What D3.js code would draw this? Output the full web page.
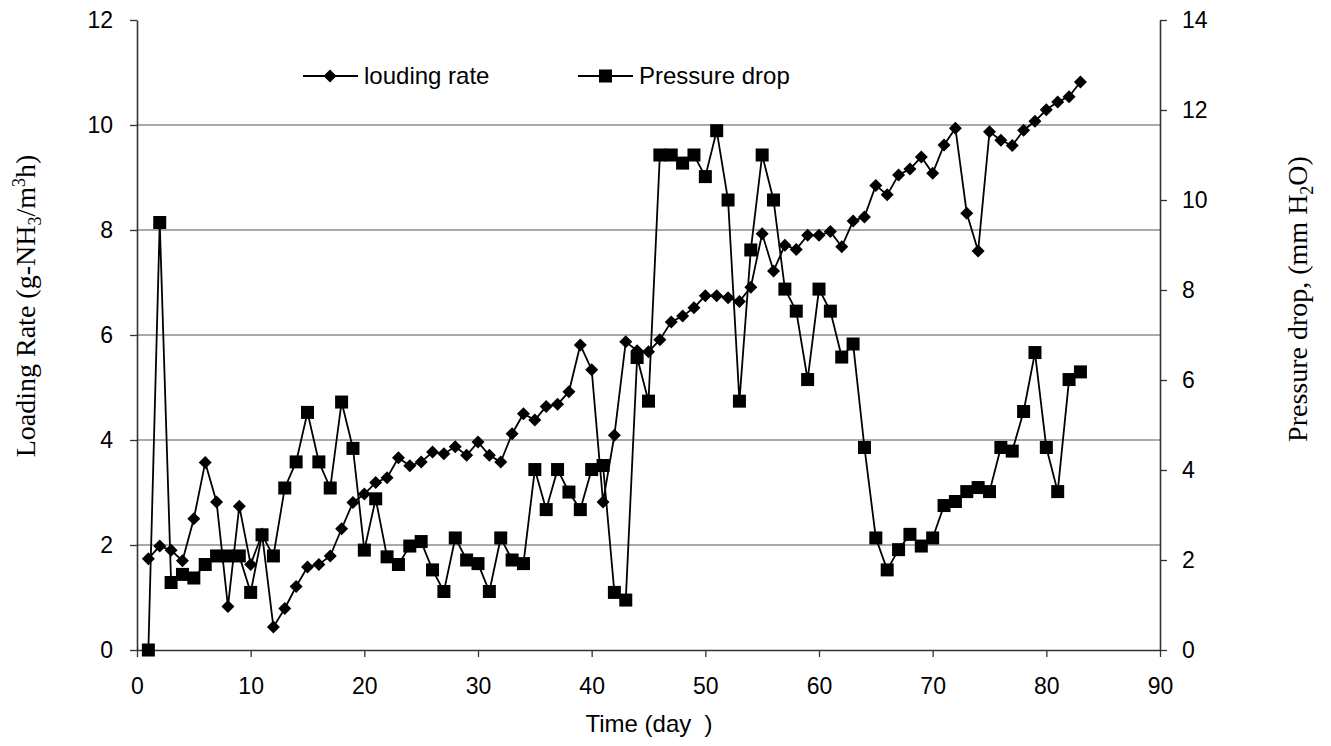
<!DOCTYPE html>
<html><head><meta charset="utf-8">
<script src="https://cdn.jsdelivr.net/npm/d3@7"></script>
<style>body{margin:0;background:#fff}</style></head>
<body><svg id="c" width="1331" height="746"></svg>
<script>
const days = d3.range(1, 84);
const loadingRate = [1.74,1.98,1.90,1.70,2.50,3.57,2.82,0.83,2.74,1.63,2.21,0.44,0.79,1.21,1.58,1.63,1.79,2.31,2.81,2.97,
3.19,3.28,3.66,3.51,3.58,3.77,3.74,3.87,3.71,3.96,3.71,3.58,4.12,4.50,4.38,4.64,4.68,4.92,5.81,5.34,
2.82,4.09,5.87,5.70,5.68,5.91,6.25,6.36,6.52,6.75,6.75,6.71,6.64,6.91,7.93,7.22,7.71,7.63,7.90,7.90,
7.97,7.68,8.17,8.25,8.85,8.67,9.05,9.16,9.39,9.08,9.62,9.94,8.32,7.60,9.87,9.71,9.61,9.90,10.07,10.29,
10.44,10.54,10.82];
const pressureDrop = [0,9.5,1.5,1.68,1.6,1.9,2.09,2.09,2.09,1.28,2.56,2.09,3.6,4.18,5.28,4.18,3.6,5.51,4.48,2.22,
3.36,2.07,1.9,2.31,2.41,1.78,1.30,2.49,2.0,1.92,1.30,2.49,2.0,1.92,4.01,3.12,4.01,3.51,3.12,4.01,
4.1,1.28,1.11,6.5,5.53,11.0,11.0,10.82,11.0,10.52,11.54,10.0,5.53,8.89,11.0,10.0,8.02,7.53,6.01,8.02,
7.53,6.51,6.80,4.5,2.49,1.78,2.23,2.57,2.31,2.49,3.21,3.30,3.52,3.61,3.52,4.50,4.42,5.30,6.61,4.50,
3.52,6.01,6.18];
const xTicks = d3.range(0, 91, 10);
const leftTicks = d3.range(0, 13, 2);
const rightTicks = d3.range(0, 15, 2);

const svg = d3.select("#c");
const L = 137, R = 1160, T = 20, B = 650;
const x = d3.scaleLinear().domain([0, 90]).range([L, R]);
const yL = d3.scaleLinear().domain([0, 12]).range([B, T]);
const yR = d3.scaleLinear().domain([0, 14]).range([B, T]);

svg.append("g").selectAll("line").data(leftTicks.filter(d => d > 0 && d < 12)).join("line")
  .attr("x1", L).attr("x2", R).attr("y1", d => yL(d)).attr("y2", d => yL(d))
  .attr("stroke", "#555").attr("stroke-width", 1.2);

const axFont = "'Liberation Sans', Arial, sans-serif";
function styleAxis(g) {
  g.selectAll("path").attr("stroke", "#333").attr("stroke-width", 1.6);
  g.selectAll("line").attr("stroke", "#333").attr("stroke-width", 1.3);
  g.selectAll("text").attr("font-family", axFont).attr("font-size", 23).attr("fill", "#000");
}
svg.append("g").attr("transform", `translate(0,${B})`)
  .call(d3.axisBottom(x).tickValues(xTicks).tickSize(7).tickPadding(21).tickSizeOuter(0))
  .call(styleAxis);
svg.append("g").attr("transform", `translate(${L},0)`)
  .call(d3.axisLeft(yL).tickValues(leftTicks).tickSize(7).tickPadding(17).tickSizeOuter(0))
  .call(styleAxis);
svg.append("g").attr("transform", `translate(${R},0)`)
  .call(d3.axisRight(yR).tickValues(rightTicks).tickSize(7).tickPadding(15).tickSizeOuter(0))
  .call(styleAxis);

const lr = days.map((d, i) => [d, loadingRate[i]]);
const pd = days.map((d, i) => [d, pressureDrop[i]]);

svg.append("path").datum(lr).attr("fill", "none").attr("stroke", "#000").attr("stroke-width", 1.8)
  .attr("d", d3.line().x(d => x(d[0])).y(d => yL(d[1])));
svg.append("path").datum(pd).attr("fill", "none").attr("stroke", "#000").attr("stroke-width", 1.8)
  .attr("d", d3.line().x(d => x(d[0])).y(d => yR(d[1])));

function diamondPath(s) { return `M0,${-s}L${s},0L0,${s}L${-s},0Z`; }
svg.append("g").selectAll("path").data(lr).join("path")
  .attr("transform", d => `translate(${x(d[0])},${yL(d[1])})`)
  .attr("d", diamondPath(6.5)).attr("fill", "#000");
svg.append("g").selectAll("rect").data(pd).join("rect")
  .attr("x", d => x(d[0]) - 6.5).attr("y", d => yR(d[1]) - 6.5)
  .attr("width", 13).attr("height", 13).attr("fill", "#000");

const lg = svg.append("g");
const ly = 76;
lg.append("line").attr("x1", 303).attr("x2", 358).attr("y1", ly).attr("y2", ly).attr("stroke", "#000").attr("stroke-width", 1.8);
lg.append("path").attr("transform", `translate(330,${ly})`).attr("d", diamondPath(6.5)).attr("fill", "#000");
lg.append("text").attr("x", 364).attr("y", ly + 8).text("louding rate")
  .attr("font-family", axFont).attr("font-size", 24);
lg.append("line").attr("x1", 578).attr("x2", 633).attr("y1", ly).attr("y2", ly).attr("stroke", "#000").attr("stroke-width", 1.8);
lg.append("rect").attr("x", 599).attr("y", ly - 6.5).attr("width", 13).attr("height", 13).attr("fill", "#000");
lg.append("text").attr("x", 639).attr("y", ly + 8).text("Pressure drop")
  .attr("font-family", axFont).attr("font-size", 24);

svg.append("text").attr("x", 649).attr("y", 732).attr("text-anchor", "middle")
  .attr("font-family", axFont).attr("font-size", 24).style("white-space", "pre").text("Time (day  )");

const serif = "'Liberation Serif', 'Times New Roman', serif";
const lt = svg.append("text").attr("transform", "translate(35,306) rotate(-90)")
  .attr("text-anchor", "middle").attr("font-family", serif).attr("font-size", 28);
lt.append("tspan").text("Loading Rate (g-NH");
lt.append("tspan").attr("font-size", 18).attr("dy", 6).text("3");
lt.append("tspan").attr("dy", -6).text("/m");
lt.append("tspan").attr("font-size", 18).attr("dy", -10).text("3");
lt.append("tspan").attr("dy", 10).text("h)");

const rt = svg.append("text").attr("transform", "translate(1307,299) rotate(-90)")
  .attr("text-anchor", "middle").attr("font-family", serif).attr("font-size", 28);
rt.append("tspan").text("Pressure drop, (mm H");
rt.append("tspan").attr("font-size", 18).attr("dy", 6).text("2");
rt.append("tspan").attr("dy", -6).text("O)");
</script></body></html>
